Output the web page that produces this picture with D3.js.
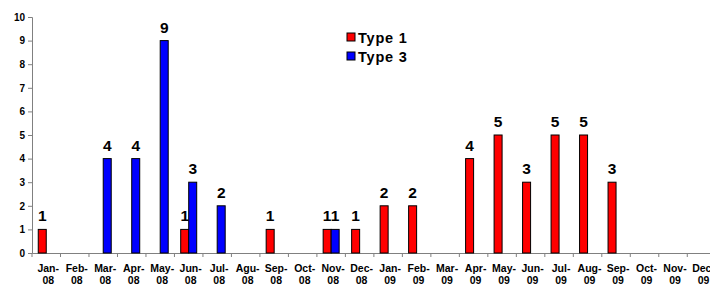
<!DOCTYPE html>
<html>
<head>
<meta charset="utf-8">
<script src="https://cdn.jsdelivr.net/npm/d3@7"></script>
<style>
  body { margin: 0; background: #fff; }
  svg { display: block; font-family: "Liberation Sans", Arial, sans-serif; }
</style>
</head>
<body>
<div id="chart"></div>
<script>
const months = ["Jan-08","Feb-08","Mar-08","Apr-08","May-08","Jun-08","Jul-08","Agu-08","Sep-08","Oct-08","Nov-08","Dec-08",
                "Jan-09","Feb-09","Mar-09","Apr-09","May-09","Jun-09","Jul-09","Aug-09","Sep-09","Oct-09","Nov-09","Dec-09"];
const type1 = [1,0,0,0,0,1,0,0,1,0,1,1, 2,2,0,4,5,3,5,5,3,0,0,0];
const type3 = [0,0,4,4,9,3,2,0,0,0,1,0, 0,0,0,0,0,0,0,0,0,0,0,0];
const seriesNames = ["Type 1", "Type 3"];
const seriesColors = ["#ff0000", "#0000ff"];
const yTicks = [0,1,2,3,4,5,6,7,8,9,10];

const width = 710, height = 284;
const marginLeft = 32, plotTop = 17, plotBottom = 253;
const step = 28.49;

const svg = d3.select("#chart").append("svg")
  .attr("width", width)
  .attr("height", height);

const x = d3.scaleBand()
  .domain(months)
  .range([marginLeft, marginLeft + step * months.length])
  .paddingInner(0).paddingOuter(0);

const xSub = d3.scaleBand()
  .domain(seriesNames)
  .range([6.25, 22.25]);

const y = d3.scaleLinear().domain([0, 10]).range([plotBottom, plotTop]);

// y axis
const yAxis = d3.axisLeft(y).tickValues(yTicks).tickSize(4).tickPadding(3).tickFormat(d3.format("d"));
const gy = svg.append("g").attr("transform", `translate(${marginLeft},0)`).call(yAxis);
gy.select(".domain").attr("stroke", "#808080");
gy.selectAll(".tick line").attr("stroke", "#808080");
gy.selectAll(".tick text").attr("fill", "#000").style("font-size", "10px").style("font-weight", "bold")
  .style("font-family", "'Liberation Sans', Arial, sans-serif");

// x axis
const xAxis = d3.axisBottom(x).tickSize(0).tickFormat("");
const gx = svg.append("g").attr("transform", `translate(0,${plotBottom})`).call(xAxis);
gx.select(".domain").attr("stroke", "#808080");
// tick marks at category boundaries
gx.selectAll("line.boundary")
  .data(months)
  .enter().append("line")
  .attr("class", "boundary")
  .attr("x1", d => x(d)).attr("x2", d => x(d))
  .attr("y1", 0).attr("y2", 4)
  .attr("stroke", "#808080");

const xl = svg.append("g").selectAll("text")
  .data(months)
  .enter().append("text")
  .attr("y", 272)
  .attr("text-anchor", "middle")
  .style("font-size", "10.5px")
  .style("font-weight", "bold");
xl.append("tspan").attr("x", d => x(d) + x.bandwidth() / 2 + 2).text(d => d.split("-")[0] + "-");
xl.append("tspan").attr("x", d => x(d) + x.bandwidth() / 2 + 2).attr("dy", 11.5).text(d => d.split("-")[1]);

// bars
const rows = months.map((m, i) => ({ month: m, values: [type1[i], type3[i]] }));
const groups = svg.append("g").selectAll("g")
  .data(rows)
  .enter().append("g")
  .attr("transform", d => `translate(${x(d.month)},0)`);

const cells = groups.selectAll("g")
  .data(d => d.values.map((v, k) => ({ name: seriesNames[k], color: seriesColors[k], value: v })).filter(c => c.value > 0))
  .enter().append("g");

cells.append("rect")
  .attr("x", c => xSub(c.name))
  .attr("width", xSub.bandwidth())
  .attr("y", c => y(c.value))
  .attr("height", c => plotBottom - y(c.value))
  .attr("fill", c => c.color)
  .attr("stroke", "#000")
  .attr("stroke-width", 1);

cells.append("text")
  .attr("x", c => xSub(c.name) + xSub.bandwidth() / 2)
  .attr("y", c => y(c.value) - 8)
  .attr("text-anchor", "middle")
  .style("font-size", "15.5px")
  .style("font-weight", "bold")
  .text(c => c.value);

// legend
const legend = svg.append("g").attr("transform", "translate(347,33)");
const li = legend.selectAll("g")
  .data(seriesNames)
  .enter().append("g")
  .attr("transform", (d, i) => `translate(0,${i * 19})`);
li.append("rect")
  .attr("width", 8).attr("height", 8)
  .attr("fill", (d, i) => seriesColors[i])
  .attr("stroke", "#000");
li.append("text")
  .attr("x", 11).attr("y", 10)
  .style("font-size", "14.5px")
  .style("letter-spacing", "0.8px")
  .style("font-weight", "bold")
  .text(d => d);
</script>
</body>
</html>
